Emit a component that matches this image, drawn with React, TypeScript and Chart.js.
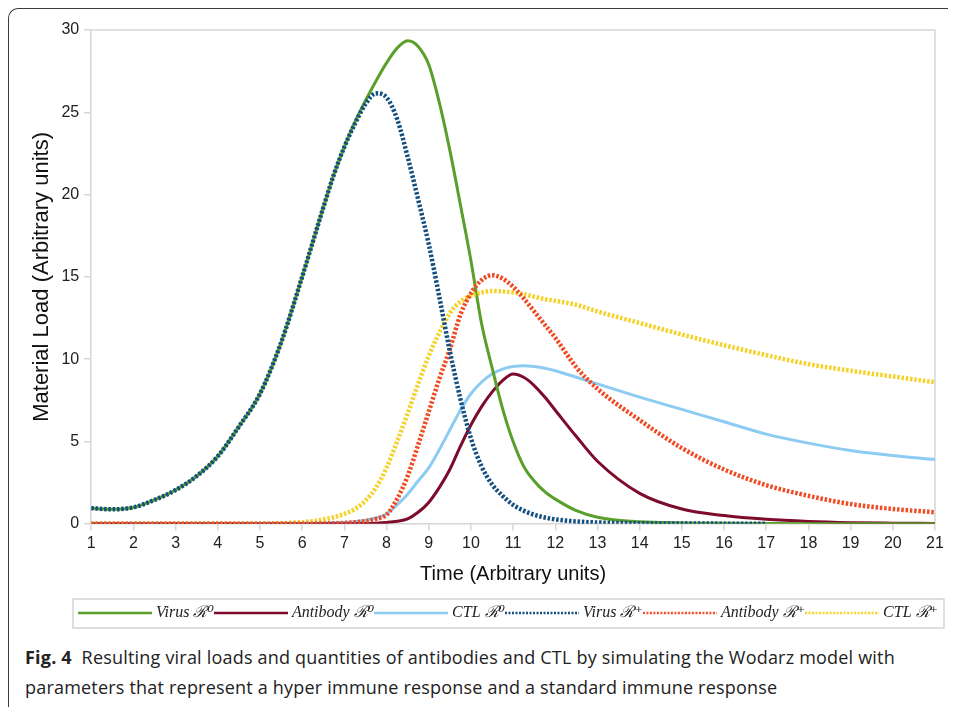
import React, { useEffect, useRef } from 'react';
import { Chart, registerables } from 'chart.js';

Chart.register(...registerables);

const TIME = [1, 1.5, 2, 2.5, 3, 3.5, 4, 4.5, 5, 5.5, 6, 6.25, 6.5, 6.75, 7, 7.25, 7.5, 7.75, 8, 8.25, 8.5, 8.75, 9, 9.25, 9.5, 9.75, 10, 10.25, 10.5, 10.75, 11, 11.25, 11.5, 11.75, 12, 12.5, 13, 14, 15, 16, 17, 18, 19, 20, 21];

const VIRUS_R0 = [0.95, 0.88, 1.0, 1.45, 2.05, 2.9, 4.1, 5.9, 7.9, 11.0, 15.0, 17.1, 19.2, 21.2, 22.9, 24.4, 25.7, 26.9, 28.0, 28.9, 29.35, 29.0, 27.9, 25.6, 22.7, 19.4, 16.0, 12.2, 9.5, 7.0, 5.0, 3.5, 2.6, 1.95, 1.5, 0.8, 0.4, 0.12, 0.05, 0.03, 0.02, 0.01, 0.01, 0.01, 0.01];
const ANTIBODY_R0 = [0, 0, 0, 0, 0, 0, 0, 0, 0, 0, 0, 0, 0, 0, 0, 0.01, 0.02, 0.04, 0.08, 0.15, 0.3, 0.7, 1.3, 2.2, 3.3, 4.7, 6.0, 7.1, 8.0, 8.7, 9.1, 8.9, 8.4, 7.7, 6.9, 5.3, 3.8, 1.85, 0.9, 0.5, 0.27, 0.14, 0.07, 0.04, 0.02];
const CTL_R0 = [0, 0, 0, 0, 0, 0, 0, 0, 0, 0, 0.01, 0.02, 0.03, 0.05, 0.08, 0.13, 0.22, 0.35, 0.6, 1.15, 1.8, 2.6, 3.4, 4.5, 5.7, 6.9, 7.9, 8.6, 9.1, 9.4, 9.55, 9.6, 9.55, 9.45, 9.3, 8.9, 8.5, 7.7, 6.95, 6.2, 5.45, 4.9, 4.45, 4.15, 3.9];
const VIRUS_RP = [0.95, 0.88, 1.0, 1.45, 2.05, 2.9, 4.1, 5.9, 7.9, 11.0, 15.0, 17.1, 19.2, 21.2, 22.9, 24.3, 25.5, 26.15, 25.9, 24.6, 22.3, 19.7, 17.0, 13.8, 10.5, 7.6, 5.2, 3.5, 2.4, 1.7, 1.15, 0.8, 0.55, 0.38, 0.27, 0.14, 0.08, 0.03, 0.02, 0.01, 0.01, null, null, null, null];
const ANTIBODY_RP = [0, 0, 0, 0, 0, 0, 0, 0, 0, 0, 0, 0.01, 0.02, 0.03, 0.05, 0.09, 0.16, 0.3, 0.55, 1.5, 2.9, 4.8, 6.8, 8.8, 10.6, 12.7, 14.0, 14.8, 15.1, 14.9, 14.4, 13.7, 12.9, 12.1, 11.3, 9.5, 8.2, 6.3, 4.6, 3.3, 2.35, 1.7, 1.2, 0.9, 0.7];
const CTL_RP = [0, 0, 0, 0, 0, 0, 0, 0, 0, 0.03, 0.1, 0.16, 0.26, 0.4, 0.6, 0.9, 1.4, 2.2, 3.4, 5.0, 6.7, 8.5, 10.2, 11.6, 12.8, 13.5, 13.85, 14.05, 14.15, 14.12, 14.05, 13.95, 13.8, 13.65, 13.55, 13.3, 12.9, 12.2, 11.5, 10.85, 10.25, 9.7, 9.3, 8.95, 8.6];

const SERIES_LABELS = ['Virus ℛ⁰', 'Antibody ℛ⁰', 'CTL ℛ⁰', 'Virus ℛ⁺', 'Antibody ℛ⁺', 'CTL ℛ⁺'];
const SERIES_COLORS = ['#5a9f2a', '#7d0b2b', '#8ccbf2', '#154f80', '#ef4b24', '#f4d22a'];
const SERIES_DOTTED = [false, false, false, true, true, true];
const SERIES_VALUES = [VIRUS_R0, ANTIBODY_R0, CTL_R0, VIRUS_RP, ANTIBODY_RP, CTL_RP];

const Y_TICK_STEP = 5;
const X_MIN = 1;
const X_MAX = 21;
const Y_MIN = 0;
const Y_MAX = 30;

const AXIS_GRAY = '#d6d6d6';
const SANS = "'Liberation Sans', Arial, sans-serif";

function makeLegendLine(color: string, dotted: boolean) {
  const c = document.createElement('canvas');
  c.width = 74;
  c.height = 4;
  const g = c.getContext('2d')!;
  g.strokeStyle = color;
  g.lineWidth = 2.5;
  g.setLineDash(dotted ? [2, 1.5] : []);
  g.beginPath();
  g.moveTo(0, 2);
  g.lineTo(74, 2);
  g.stroke();
  return c;
}

const framePlugin = {
  id: 'frames',
  afterLayout(chart: any) {
    const lg = chart.legend;
    if (lg) {
      lg.left += 7;
      lg.right += 7;
    }
  },
  beforeDatasetsDraw(chart: any) {
    const { ctx, chartArea } = chart;
    ctx.save();
    ctx.strokeStyle = AXIS_GRAY;
    ctx.lineWidth = 1.5;
    ctx.beginPath();
    ctx.moveTo(chartArea.left, chartArea.top);
    ctx.lineTo(chartArea.right, chartArea.top);
    ctx.lineTo(chartArea.right, chartArea.bottom);
    ctx.stroke();
    ctx.restore();
  },
  afterDraw(chart: any) {
    const lg = chart.legend;
    if (!lg || !lg.legendHitBoxes || !lg.legendHitBoxes.length) return;
    const hb = lg.legendHitBoxes;
    let l = Infinity, r = -Infinity, t = Infinity, b = -Infinity;
    hb.forEach((h: any) => {
      l = Math.min(l, h.left);
      r = Math.max(r, h.left + h.width);
      t = Math.min(t, h.top);
      b = Math.max(b, h.top + h.height);
    });
    const { ctx } = chart;
    ctx.save();
    ctx.strokeStyle = '#d4d4d4';
    ctx.lineWidth = 1.5;
    ctx.strokeRect(l - 9, t - 6, r - l + 15, b - t + 13);
    ctx.restore();
  },
};

export default function App() {
  const ref = useRef<HTMLCanvasElement | null>(null);

  useEffect(() => {
    if (!ref.current) return;
    const legendLines = SERIES_COLORS.map((c, i) => makeLegendLine(c, SERIES_DOTTED[i]));
    const datasets = SERIES_VALUES.map((vals, i) => ({
      label: SERIES_LABELS[i],
      data: TIME.map((t, k) => ({ x: t, y: vals[k] })),
      borderColor: SERIES_COLORS[i],
      backgroundColor: SERIES_COLORS[i],
      borderWidth: SERIES_DOTTED[i] ? 4.5 : 3,
      borderDash: SERIES_DOTTED[i] ? [2.5, 1.8] : [],
      borderCapStyle: 'butt' as const,
      pointRadius: 0,
      cubicInterpolationMode: 'monotone' as const,
      fill: false,
      spanGaps: false,
      order: SERIES_DOTTED[i] ? 0 : 1,
    }));

    const chart = new Chart(ref.current, {
      type: 'line',
      data: { datasets },
      plugins: [framePlugin],
      options: {
        animation: false,
        responsive: false,
        maintainAspectRatio: false,
        layout: { padding: { left: 10, right: 21, top: 22, bottom: 7 } },
        plugins: {
          tooltip: { enabled: false },
          legend: {
            position: 'bottom',
            align: 'end',
            labels: {
              usePointStyle: true,
              pointStyleWidth: 66,
              boxWidth: 66,
              boxHeight: 10,
              padding: 4,
              color: '#222',
              font: { family: "'Liberation Serif', 'DejaVu Serif', serif", size: 16, style: 'italic' },
              generateLabels: (chart: any) => {
                const items = Chart.defaults.plugins.legend.labels.generateLabels(chart);
                return items
                  .map((it: any) => ({
                    ...it,
                    pointStyle: legendLines[it.datasetIndex],
                    lineWidth: 2.5,
                  }))
                  .sort((a: any, b: any) => a.datasetIndex - b.datasetIndex);
              },
            },
          },
        },
        scales: {
          x: {
            type: 'linear',
            min: X_MIN,
            max: X_MAX,
            grid: { drawOnChartArea: false, drawTicks: true, tickLength: 7, color: AXIS_GRAY, lineWidth: 1.5 },
            border: { display: true, color: AXIS_GRAY, width: 1.5 },
            ticks: { stepSize: 1, padding: 3, color: '#222', font: { family: SANS, size: 16 } },
            title: {
              display: true,
              text: 'Time (Arbitrary units)',
              color: '#111',
              font: { family: SANS, size: 20 },
              padding: { top: 6, bottom: 15 },
            },
          },
          y: {
            type: 'linear',
            min: Y_MIN,
            max: Y_MAX,
            grid: { drawOnChartArea: false, drawTicks: true, tickLength: 7, color: AXIS_GRAY, lineWidth: 1.5 },
            border: { display: true, color: AXIS_GRAY, width: 1.5 },
            ticks: { stepSize: Y_TICK_STEP, padding: 5, color: '#222', font: { family: SANS, size: 16 } },
            title: {
              display: true,
              text: 'Material Load (Arbitrary units)',
              color: '#111',
              font: { family: SANS, size: 22 },
              padding: { top: 11, bottom: 1 },
            },
          },
        },
      },
    });
    return () => chart.destroy();
  }, []);

  return (
    <div style={{ position: 'relative', width: 948, height: 699, overflow: 'hidden' }}>
      <div
        style={{
          position: 'absolute',
          left: 0,
          top: 0,
          width: 980,
          height: 740,
          borderTop: '1.5px solid #3c3c3c',
          borderLeft: '1.5px solid #3c3c3c',
          borderTopLeftRadius: 10,
          boxSizing: 'border-box',
        }}
      />
      <div style={{ position: 'absolute', left: 0, top: 0, width: 948, height: 630 }}>
        <canvas ref={ref} width={948} height={630} style={{ display: 'block' }} />
      </div>
      <div
        style={{
          position: 'absolute',
          left: 17,
          top: 634,
          width: 930,
          fontFamily: "'Open Sans', 'Noto Sans', sans-serif",
          fontSize: 18,
          lineHeight: '30px',
          color: '#222',
          letterSpacing: 0.2,
        }}
      >
        <b>Fig. 4</b>&nbsp; Resulting viral loads and quantities of antibodies and CTL by simulating the Wodarz model with parameters that represent a hyper immune response and a standard immune response
      </div>
    </div>
  );
}
